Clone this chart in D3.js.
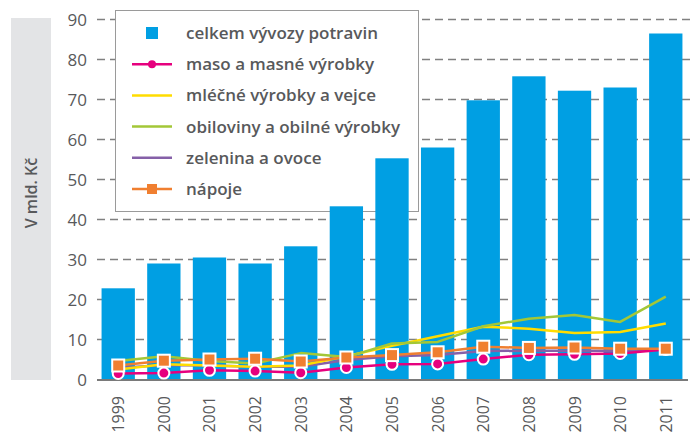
<!DOCTYPE html>
<html>
<head>
<meta charset="utf-8">
<script src="https://cdn.jsdelivr.net/npm/d3@7"></script>
<style>
  body { margin: 0; background: #fff; }
  svg text { font-family: "Open Sans", "Noto Sans", sans-serif; fill: #58595b; }
</style>
</head>
<body>
<svg id="chart" width="692" height="435"></svg>
<script>
const years = ["1999","2000","2001","2002","2003","2004","2005","2006","2007","2008","2009","2010","2011"];
const celkem = [22.8, 29, 30.5, 29, 33.3, 43.3, 55.3, 58, 69.8, 75.8, 72.2, 73, 86.5];
const maso = [1.5, 1.6, 2.3, 2.1, 1.7, 3, 3.8, 3.9, 5.1, 6.2, 6.3, 6.5, 7.5];
const mlecne = [2.5, 3.8, 3.5, 3.2, 3.5, 5.8, 8.4, 10.8, 13.2, 12.7, 11.6, 11.9, 14];
const obiloviny = [4.6, 5.8, 4.6, 4, 6.6, 5.6, 9, 9.4, 13.3, 15.2, 16.1, 14.4, 20.7];
const zelenina = [2.9, 3.6, 3.5, 3.2, 3.2, 4.9, 5.8, 6.1, 7.1, 7.2, 7.2, 7.2, 7.7];
const napoje = [3.5, 4.7, 5, 5.2, 4.5, 5.5, 6.1, 6.8, 8.2, 7.9, 8, 7.7, 7.7];
const yTicks = [0, 10, 20, 30, 40, 50, 60, 70, 80, 90];

const colors = {
  bar: "#009fe3", maso: "#e6007e", mlecne: "#ffdc00",
  obiloviny: "#a3c737", zelenina: "#8560a8", napoje: "#f07f30"
};

const svg = d3.select("#chart");
const x = d3.scaleBand().domain(years).range([97, 687]).paddingInner(0.27).paddingOuter(0.1);
const y = d3.scaleLinear().domain([0, 90]).range([379.5, 19.5]);
const cx = (d, i) => x(years[i]) + x.bandwidth() / 2;

// y label panel
svg.append("rect").attr("x", 11).attr("y", 18).attr("width", 40).attr("height", 362).attr("fill", "#e3e4e6");
svg.append("text").attr("transform", "translate(37,193) rotate(-90)")
  .attr("text-anchor", "middle").style("font-size", "16px").style("font-weight", "600")
  .text("V mld. Kč");

// grid lines
svg.append("g").selectAll("line").data(yTicks.filter(d => d > 0)).enter().append("line")
  .attr("x1", 97).attr("x2", 690).attr("y1", d => y(d)).attr("y2", d => y(d))
  .attr("stroke", "#808080").attr("stroke-width", 1.5).attr("stroke-dasharray", "8,5");

// y tick labels
svg.append("g").selectAll("text").data(yTicks).enter().append("text")
  .attr("x", 87).attr("y", d => y(d) + 6).attr("text-anchor", "end")
  .style("font-size", "17px").text(d => d);

// legend box sits behind the bars
const lg = svg.append("g");
lg.append("rect").attr("x", 115.5).attr("y", 10.5).attr("width", 303).attr("height", 201)
  .attr("fill", "#fff").attr("stroke", "#9a9a9a").attr("stroke-width", 1);

// bars
svg.append("g").selectAll("rect").data(celkem).enter().append("rect")
  .attr("x", (d, i) => x(years[i])).attr("width", x.bandwidth())
  .attr("y", d => y(d)).attr("height", d => y(0) - y(d)).attr("fill", colors.bar);

// baseline
svg.append("line").attr("x1", 97).attr("x2", 688).attr("y1", y(0) + 0.5).attr("y2", y(0) + 0.5)
  .attr("stroke", "#7a7a7a").attr("stroke-width", 2);

// x labels
svg.append("g").selectAll("text").data(years).enter().append("text")
  .attr("transform", (d, i) => `translate(${cx(d, i) + 6},396) rotate(-90)`)
  .attr("text-anchor", "end").style("font-size", "16px").text(d => d);

// lines
const line = d3.line().x(cx).y(d => y(d));
const series = [
  ["zelenina", zelenina], ["mlecne", mlecne], ["obiloviny", obiloviny],
  ["maso", maso], ["napoje", napoje]
];
series.forEach(([k, vals]) => {
  svg.append("path").datum(vals).attr("d", line).attr("fill", "none")
    .attr("stroke", colors[k]).attr("stroke-width", 2.5).attr("stroke-linejoin", "round");
});

svg.append("g").selectAll("circle").data(maso).enter().append("circle")
  .attr("cx", cx).attr("cy", d => y(d)).attr("r", 5.5)
  .attr("fill", colors.maso).attr("stroke", "#fff").attr("stroke-width", 2);
svg.append("g").selectAll("rect").data(napoje).enter().append("rect")
  .attr("x", (d, i) => cx(d, i) - 6).attr("y", d => y(d) - 6).attr("width", 12).attr("height", 12)
  .attr("fill", colors.napoje).attr("stroke", "#fff").attr("stroke-width", 2);

// legend entries
const legendItems = [
  ["bar", "celkem vývozy potravin"], ["maso", "maso a masné výrobky"],
  ["mlecne", "mléčné výrobky a vejce"], ["obiloviny", "obiloviny a obilné výrobky"],
  ["zelenina", "zelenina a ovoce"], ["napoje", "nápoje"]
];
const le = svg.append("g");
legendItems.forEach(([k, label], i) => {
  const ly = 33 + i * 31.2;
  if (k === "bar") {
    le.append("rect").attr("x", 146).attr("y", ly - 6).attr("width", 12).attr("height", 12).attr("fill", colors.bar);
  } else {
    le.append("line").attr("x1", 132).attr("x2", 172).attr("y1", ly).attr("y2", ly)
      .attr("stroke", colors[k]).attr("stroke-width", 2.5);
    if (k === "maso") le.append("circle").attr("cx", 152).attr("cy", ly).attr("r", 4).attr("fill", colors.maso);
    if (k === "napoje") le.append("rect").attr("x", 147).attr("y", ly - 5).attr("width", 10).attr("height", 10).attr("fill", colors.napoje);
  }
  le.append("text").attr("x", 186).attr("y", ly + 6).style("font-size", "17px").style("font-weight", "600").text(label);
});
</script>
</body>
</html>
